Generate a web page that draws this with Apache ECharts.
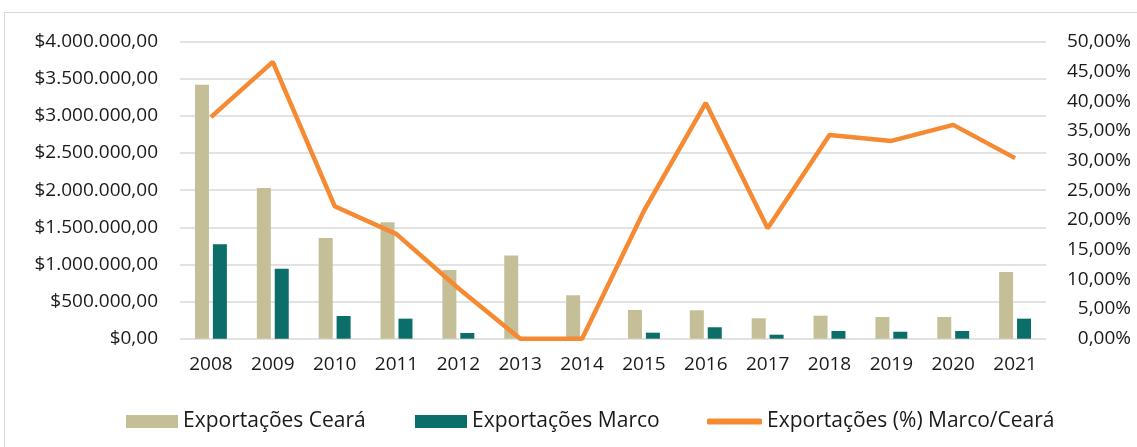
<!DOCTYPE html>
<html>
<head>
<meta charset="utf-8">
<script src="https://cdn.jsdelivr.net/npm/echarts@6/dist/echarts.min.js"></script>
<style>
  html, body { margin: 0; padding: 0; background: #fff; }
  #frame { position: absolute; left: 4px; top: 12px; width: 1200px; height: 500px; border-top: 1px solid #d9d9d9; border-left: 1px solid #d9d9d9; }
  #chart { position: absolute; left: 0; top: 0; width: 1137px; height: 447px; }
</style>
</head>
<body>
<div id="frame"></div>
<div id="chart"></div>
<script>
  const years = ["2008", "2009", "2010", "2011", "2012", "2013", "2014", "2015", "2016", "2017", "2018", "2019", "2020", "2021"];
  const exportCeara = [3419000, 2031000, 1357000, 1569000, 926000, 1119000, 585000, 387000, 383000, 275000, 310000, 292000, 292000, 899000];
  const exportMarco = [1272000, 943000, 306000, 270000, 77000, 0, 0, 81000, 154000, 54000, 104000, 94000, 104000, 270000];
  const sharePct = [0.373, 0.466, 0.223, 0.176, 0.085, 0, 0, 0.215, 0.397, 0.186, 0.343, 0.333, 0.36, 0.304];

  const fmtMoney = (v) => {
    const int = Math.round(v).toString().replace(/\B(?=(\d{3})+(?!\d))/g, ".");
    return "$" + int + ",00";
  };
  const fmtPct = (v) => (v * 100).toFixed(2).replace(".", ",") + "%";

  const font = "'Open Sans', sans-serif";
  const txt = "#1a1a1a";
  const legendText = { fontSize: 21, color: txt, fontFamily: font };

  const chart = echarts.init(document.getElementById("chart"));
  chart.setOption({
    animation: false,
    textStyle: { fontFamily: font },
    grid: { left: 180, right: 91, top: 41.7, bottom: 108.3 },
    legend: [
      {
        left: 121, top: 406, itemWidth: 52, itemHeight: 13, icon: "rect",
        textStyle: legendText, data: ["Exportações Ceará"],
      },
      {
        left: 410, top: 406, itemWidth: 52, itemHeight: 13, icon: "rect",
        textStyle: legendText, data: ["Exportações Marco"],
      },
      {
        left: 702, top: 406, itemWidth: 55, itemHeight: 6, icon: "roundRect",
        textStyle: legendText, data: ["Exportações (%) Marco/Ceará"],
      },
    ],
    xAxis: {
      type: "category",
      data: years,
      axisLine: { show: false },
      axisTick: { show: false },
      axisLabel: { color: txt, fontSize: 19, margin: 16 },
    },
    yAxis: [
      {
        type: "value",
        min: 0,
        max: 4000000,
        interval: 500000,
        axisLabel: { color: txt, fontSize: 19, margin: 22, formatter: fmtMoney },
        splitLine: { lineStyle: { color: "#d9d9d9", width: 1.5 } },
        axisLine: { show: false },
        axisTick: { show: false },
      },
      {
        type: "value",
        min: 0,
        max: 0.5,
        interval: 0.05,
        position: "right",
        axisLabel: { color: txt, fontSize: 19, margin: 85, align: "right", formatter: fmtPct },
        splitLine: { show: false },
        axisLine: { show: false },
        axisTick: { show: false },
      },
    ],
    series: [
      {
        name: "Exportações Ceará",
        type: "bar",
        data: exportCeara,
        barWidth: 14,
        barGap: "28%",
        itemStyle: { color: "#c5bf98" },
      },
      {
        name: "Exportações Marco",
        type: "bar",
        data: exportMarco,
        barWidth: 14,
        itemStyle: { color: "#0b6e69" },
      },
      {
        name: "Exportações (%) Marco/Ceará",
        type: "line",
        yAxisIndex: 1,
        data: sharePct,
        symbol: "none",
        lineStyle: { color: "#f58a32", width: 4.5 },
        itemStyle: { color: "#f58a32" },
      },
    ],
  });
</script>
</body>
</html>
